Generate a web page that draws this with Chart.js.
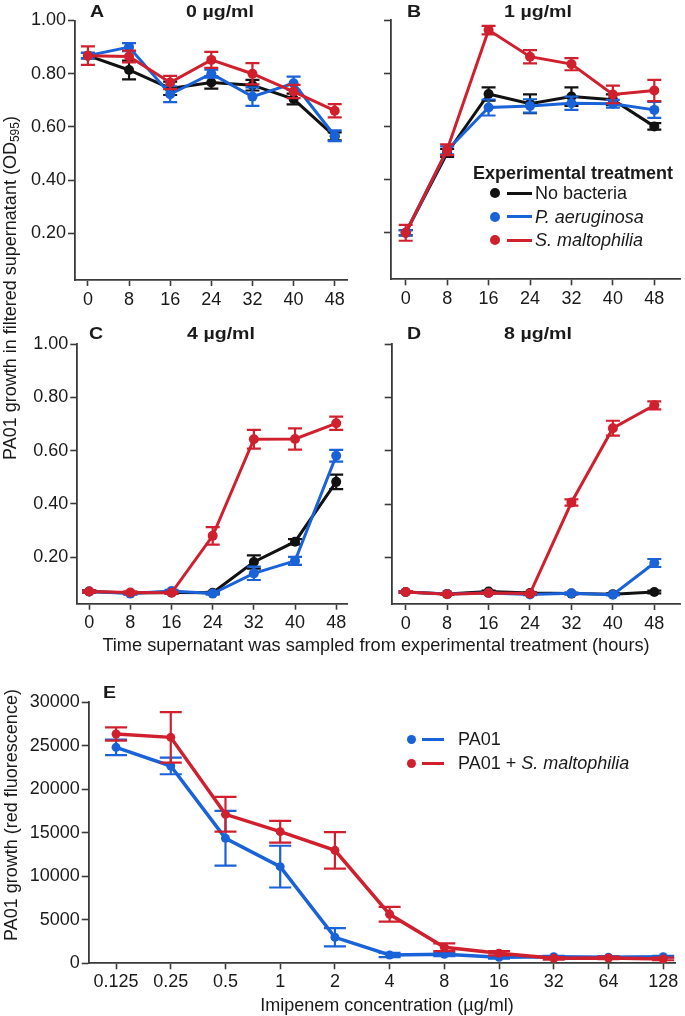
<!DOCTYPE html>
<html>
<head>
<meta charset="utf-8">
<script src="https://cdn.jsdelivr.net/npm/chart.js@4.4.1/dist/chart.umd.min.js"></script>
<style>
  html, body { margin:0; padding:0; background:#fff; }
  body { width:685px; height:1016px; position:relative; overflow:hidden; font-family:'Liberation Sans', Arial, sans-serif; color:#1a1a1a; }
  canvas { position:absolute; }
  .t { position:absolute; white-space:nowrap; line-height:1; }
  .c { transform:translate(-50%,-50%); }
  .ttl { font-weight:bold; font-size:17px; }
  .lab { font-size:18px; }
  .dot { position:absolute; border-radius:50%; }
  .ln { position:absolute; height:3px; }
</style>
</head>
<body>
<canvas id="cA"></canvas>
<canvas id="cB"></canvas>
<canvas id="cC"></canvas>
<canvas id="cD"></canvas>
<canvas id="cE"></canvas>

<!-- panel letters and titles -->
<div class="t ttl" style="left:90px;top:10.5px;transform:translateY(-50%) scaleX(1.15);transform-origin:left center;">A</div>
<div class="t ttl" style="left:220px;top:10.5px;transform:translate(-50%,-50%) scaleX(1.15);">0 µg/ml</div>
<div class="t ttl" style="left:406.7px;top:10.5px;transform:translateY(-50%) scaleX(1.15);transform-origin:left center;">B</div>
<div class="t ttl" style="left:538.3px;top:10.5px;transform:translate(-50%,-50%) scaleX(1.15);">1 µg/ml</div>
<div class="t ttl" style="left:89.3px;top:332.5px;transform:translateY(-50%) scaleX(1.15);transform-origin:left center;">C</div>
<div class="t ttl" style="left:221px;top:332.5px;transform:translate(-50%,-50%) scaleX(1.15);">4 µg/ml</div>
<div class="t ttl" style="left:406.7px;top:332.5px;transform:translateY(-50%) scaleX(1.15);transform-origin:left center;">D</div>
<div class="t ttl" style="left:538px;top:332.5px;transform:translate(-50%,-50%) scaleX(1.15);">8 µg/ml</div>
<div class="t ttl" style="left:102.7px;top:691.5px;transform:translateY(-50%) scaleX(1.15);transform-origin:left center;">E</div>

<!-- shared axis titles -->
<div class="t lab" style="left:11px;top:288px;transform:translate(-50%,-50%) rotate(-90deg);">PA01 growth in filtered supernatant (OD<sub style="font-size:12px;vertical-align:-3px;">595</sub>)</div>
<div class="t lab c" style="left:376px;top:645px;font-size:18.2px;">Time supernatant was sampled from experimental treatment (hours)</div>
<div class="t lab" style="left:11px;top:815px;transform:translate(-50%,-50%) rotate(-90deg);">PA01 growth (red fluorescence)</div>
<div class="t lab c" style="left:387px;top:1005px;">Imipenem concentration (µg/ml)</div>

<!-- legend panel B -->
<div class="t" style="left:473px;top:173px;transform:translateY(-50%);font-weight:bold;font-size:18px;">Experimental treatment</div>
<div class="dot" style="left:490px;top:188.3px;width:10px;height:10px;background:#111;"></div>
<div class="ln" style="left:507px;top:191.8px;width:25px;background:#111;"></div>
<div class="t lab" style="left:535px;top:193.3px;transform:translateY(-50%);">No bacteria</div>
<div class="dot" style="left:490px;top:211.7px;width:10px;height:10px;background:#1a62d8;"></div>
<div class="ln" style="left:507px;top:215.2px;width:25px;background:#1a62d8;"></div>
<div class="t lab" style="left:535px;top:216.7px;transform:translateY(-50%);font-style:italic;">P. aeruginosa</div>
<div class="dot" style="left:490px;top:235px;width:10px;height:10px;background:#d0202e;"></div>
<div class="ln" style="left:507px;top:238.5px;width:25px;background:#d0202e;"></div>
<div class="t lab" style="left:535px;top:240px;transform:translateY(-50%);font-style:italic;">S. maltophilia</div>

<!-- legend panel E -->
<div class="dot" style="left:406.5px;top:734.5px;width:9px;height:9px;background:#1a62d8;"></div>
<div class="ln" style="left:421.7px;top:737.5px;width:22px;background:#1a62d8;"></div>
<div class="t lab" style="left:458px;top:739px;transform:translateY(-50%);">PA01</div>
<div class="dot" style="left:406.5px;top:758.8px;width:9px;height:9px;background:#d0202e;"></div>
<div class="ln" style="left:421.7px;top:761.8px;width:22px;background:#d0202e;"></div>
<div class="t lab" style="left:458px;top:763.3px;transform:translateY(-50%);">PA01 + <i>S. maltophilia</i></div>

<script>
// ---------------- data ----------------
const hours = [0, 8, 16, 24, 32, 40, 48];
const odTicks = [0.2, 0.4, 0.6, 0.8, 1.0];

// Panel A: 0 µg/ml
const A_noBact    = [0.868, 0.814, 0.745, 0.767, 0.757, 0.705, 0.565];
const A_noBactErr = [0.010, 0.035, 0.025, 0.023, 0.020, 0.020, 0.015];
const A_paer      = [0.868, 0.900, 0.723, 0.800, 0.714, 0.764, 0.567];
const A_paerErr   = [0.010, 0.015, 0.030, 0.015, 0.035, 0.025, 0.020];
const A_smal      = [0.868, 0.865, 0.767, 0.852, 0.800, 0.733, 0.661];
const A_smalErr   = [0.035, 0.022, 0.025, 0.030, 0.040, 0.025, 0.025];

// Panel B: 1 µg/ml
const B_noBact    = [0.200, 0.500, 0.722, 0.685, 0.712, 0.700, 0.600];
const B_noBactErr = [0.010, 0.015, 0.025, 0.035, 0.035, 0.020, 0.012];
const B_paer      = [0.200, 0.510, 0.671, 0.677, 0.687, 0.685, 0.662];
const B_paerErr   = [0.010, 0.015, 0.030, 0.025, 0.025, 0.015, 0.030];
const B_smal      = [0.200, 0.512, 0.962, 0.862, 0.834, 0.720, 0.735];
const B_smalErr   = [0.030, 0.020, 0.016, 0.025, 0.023, 0.033, 0.040];

// Panel C: 4 µg/ml
const C_noBact    = [0.071, 0.065, 0.067, 0.066, 0.182, 0.258, 0.483];
const C_noBactErr = [0.004, 0.004, 0.004, 0.004, 0.025, 0.010, 0.027];
const C_paer      = [0.071, 0.063, 0.073, 0.063, 0.139, 0.186, 0.581];
const C_paerErr   = [0.004, 0.004, 0.004, 0.004, 0.025, 0.015, 0.022];
const C_smal      = [0.071, 0.067, 0.066, 0.280, 0.643, 0.644, 0.703];
const C_smalErr   = [0.004, 0.004, 0.004, 0.033, 0.035, 0.040, 0.025];

// Panel D: 8 µg/ml
const D_noBact    = [0.070, 0.063, 0.072, 0.066, 0.064, 0.062, 0.070];
const D_noBactErr = [0.003, 0.003, 0.003, 0.003, 0.003, 0.003, 0.005];
const D_paer      = [0.070, 0.063, 0.066, 0.061, 0.065, 0.060, 0.179];
const D_paerErr   = [0.003, 0.003, 0.003, 0.003, 0.003, 0.003, 0.015];
const D_smal      = [0.070, 0.062, 0.066, 0.064, 0.406, 0.685, 0.771];
const D_smalErr   = [0.003, 0.003, 0.003, 0.003, 0.012, 0.028, 0.015];

// Panel E: imipenem dose response
const concLabels  = ['0.125', '0.25', '0.5', '1', '2', '4', '8', '16', '32', '64', '128'];
const fluorTicks  = [0, 5000, 10000, 15000, 20000, 25000, 30000];
const E_pa01      = [24825, 22680, 14366, 11110, 2988, 958, 1034, 690, 766, 690, 766];
const E_pa01Err   = [900, 950, 3150, 2400, 1050, 250, 200, 150, 100, 100, 100];
const E_pa01Sm    = [26357, 25974, 17125, 15132, 12987, 5632, 1839, 1150, 575, 613, 498];
const E_pa01SmErr = [770, 2900, 2000, 1250, 2100, 850, 450, 250, 150, 150, 150];

// ---------------- styling ----------------
const RED = '#d0202e', BLUE = '#1a62d8', BLACK = '#111111';
const AXIS = '#3a3a3a', TXT = '#1a1a1a';
Chart.defaults.font.family = "'Liberation Sans', Arial, sans-serif";
Chart.defaults.color = TXT;

const errorBars = {
  id: 'errorBars',
  afterDatasetDraw(chart, args, opts) {
    const ds = chart.data.datasets[args.index];
    const errs = ds.errors;
    if (!errs) return;
    const ys = chart.scales.y, ctx = chart.ctx;
    ctx.save();
    ctx.strokeStyle = ds.borderColor;
    ctx.lineWidth = opts.width;
    const hw = opts.cap / 2;
    args.meta.data.forEach((pt, i) => {
      const v = ds.data[i].y, e = errs[i];
      if (!e) return;
      const t = ys.getPixelForValue(v + e), b = ys.getPixelForValue(v - e);
      ctx.beginPath();
      ctx.moveTo(pt.x, t); ctx.lineTo(pt.x, b);
      ctx.moveTo(pt.x - hw, t); ctx.lineTo(pt.x + hw, t);
      ctx.moveTo(pt.x - hw, b); ctx.lineTo(pt.x + hw, b);
      ctx.stroke();
    });
    ctx.restore();
  }
};

function series(xs, ys, errs, color, order, r, bw) {
  return {
    data: xs.map((x, i) => ({ x: x, y: ys[i] })),
    errors: errs,
    borderColor: color, backgroundColor: color,
    pointBackgroundColor: color, pointBorderWidth: 0,
    pointRadius: r, borderWidth: bw, order: order, tension: 0
  };
}

function setup(id, g, datasets, xCfg, yCfg, cap) {
  const cv = document.getElementById(id);
  cv.width = g.W; cv.height = g.H;
  cv.style.left = g.L + 'px'; cv.style.top = g.T + 'px';
  cv.style.width = g.W + 'px'; cv.style.height = g.H + 'px';
  new Chart(cv, {
    type: 'line',
    data: { datasets: datasets },
    plugins: [errorBars],
    options: {
      responsive: false, animation: false, devicePixelRatio: 1,
      layout: { padding: { top: g.pt, right: g.pr, bottom: 0, left: 0 } },
      plugins: { legend: { display: false }, tooltip: { enabled: false }, errorBars: { width: 2.2, cap: cap } },
      scales: {
        x: {
          type: 'linear', min: xCfg.min, max: xCfg.max,
          afterBuildTicks: s => { s.ticks = xCfg.ticks.map(v => ({ value: v })); },
          afterFit: s => { s.height = g.xh; s.paddingLeft = 0; s.paddingRight = 0; },
          ticks: { callback: xCfg.label, font: { size: 18 }, color: TXT, padding: xCfg.pad, maxRotation: 0, autoSkip: false },
          grid: { drawOnChartArea: false, drawTicks: true, tickLength: 6, color: AXIS, tickWidth: 1.6 },
          border: { display: true, color: AXIS, width: 1.8 }
        },
        y: {
          type: 'linear', min: yCfg.min, max: yCfg.max,
          afterBuildTicks: s => { s.ticks = yCfg.ticks.map(v => ({ value: v })); },
          afterFit: s => { s.width = g.yw; s.paddingTop = 0; s.paddingBottom = 0; },
          ticks: { callback: yCfg.label, font: { size: 18 }, color: TXT, padding: 2 },
          grid: { drawOnChartArea: false, drawTicks: true, tickLength: 7, color: AXIS, tickWidth: 1.6 },
          border: { display: true, color: AXIS, width: 1.8 }
        }
      }
    }
  });
}

function odPanel(id, g, noB, noBE, pa, paE, sm, smE, showY) {
  setup(id, g, [
      series(hours, sm, smE, RED, 0, 5, 3),
      series(hours, pa, paE, BLUE, 1, 5, 3),
      series(hours, noB, noBE, BLACK, 2, 5, 3)
    ],
    { min: g.xmin, max: g.xmax, ticks: hours, label: v => String(v), pad: 3 },
    { min: 0.025, max: 1.0, ticks: odTicks, label: showY ? (v => v.toFixed(2)) : (() => '') },
    14);
}

odPanel('cA', { L: 0,   T: 0,   W: 352, H: 312, pt: 20.5, pr: 3, yw: 75,   xh: 32,   xmin: -2.51, xmax: 50.39 },
        A_noBact, A_noBactErr, A_paer, A_paerErr, A_smal, A_smalErr, true);
odPanel('cB', { L: 340, T: 0,   W: 345, H: 312, pt: 20,   pr: 5, yw: 51,   xh: 32.7, xmin: -2.84, xmax: 52.96 },
        B_noBact, B_noBactErr, B_paer, B_paerErr, B_smal, B_smalErr, false);
odPanel('cC', { L: 0,   T: 320, W: 352, H: 320, pt: 24.3, pr: 2, yw: 77.3, xh: 36.3, xmin: -2.31, xmax: 50.1 },
        C_noBact, C_noBactErr, C_paer, C_paerErr, C_smal, C_smalErr, true);
odPanel('cD', { L: 340, T: 320, W: 345, H: 320, pt: 24.3, pr: 5, yw: 51.7, xh: 36,   xmin: -2.7,  xmax: 52.96 },
        D_noBact, D_noBactErr, D_paer, D_paerErr, D_smal, D_smalErr, false);

const concIdx = concLabels.map((_, i) => i);
setup('cE', { L: 0, T: 680, W: 685, H: 336, pt: 22.3, pr: 10, yw: 88.7, xh: 52.7 }, [
    series(concIdx, E_pa01Sm, E_pa01SmErr, RED, 0, 4.5, 3.5),
    series(concIdx, E_pa01, E_pa01Err, BLUE, 1, 4.5, 3.5)
  ],
  { min: -0.5, max: 10.216, ticks: concIdx, label: v => concLabels[v], pad: 2 },
  { min: 0, max: 30000, ticks: fluorTicks, label: v => String(v) },
  22);
</script>
</body>
</html>
